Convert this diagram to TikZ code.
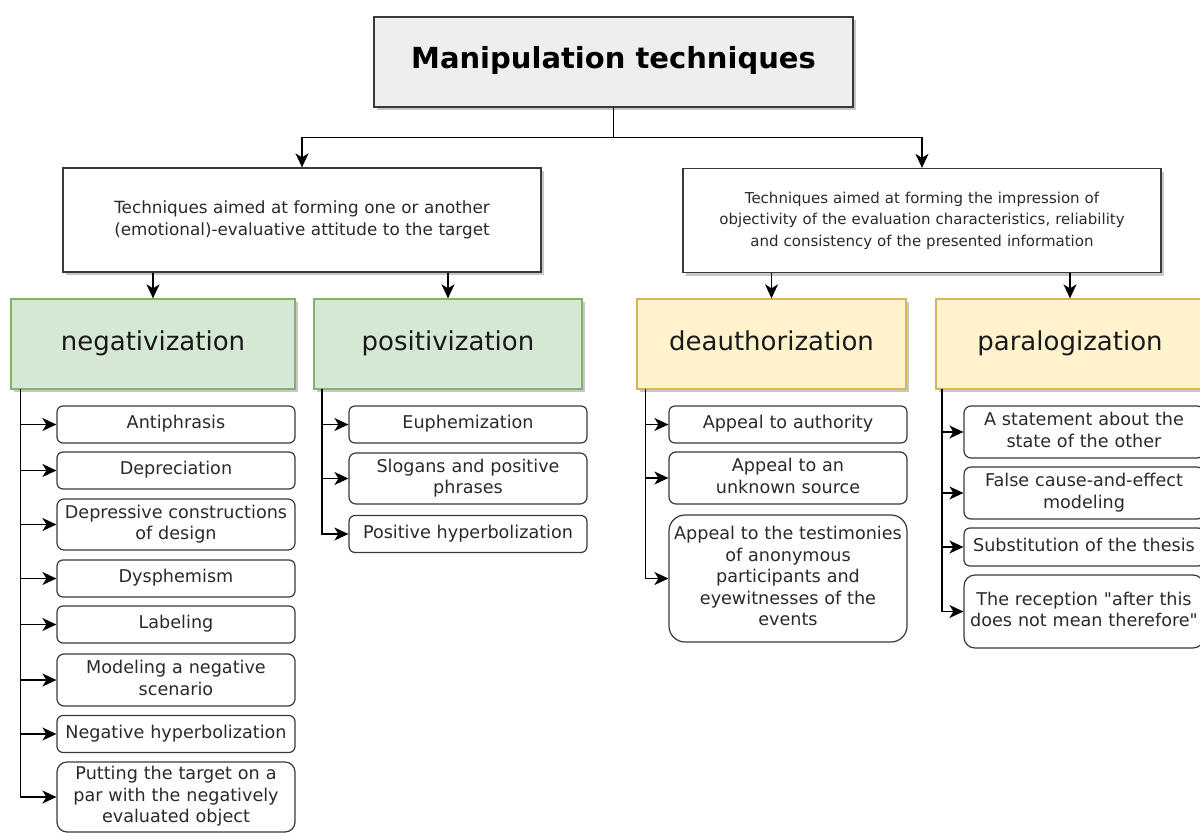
\documentclass[tikz,border=0pt]{standalone}
\usepackage{fontspec}
\setmainfont{DejaVu Sans}[Ligatures=TeXOff]
\usetikzlibrary{arrows.meta,shadows,calc}
\definecolor{topfill}{HTML}{EEEEEE}
\definecolor{topline}{HTML}{36393D}
\definecolor{greenfill}{HTML}{D5E8D4}
\definecolor{greenline}{HTML}{82B366}
\definecolor{yelfill}{HTML}{FFF2CC}
\definecolor{yelline}{HTML}{D6B656}
\definecolor{txt}{HTML}{2A2A2A}
\begin{document}
\begin{tikzpicture}[x=1pt,y=-1pt,
  conn/.style={line width=1.5pt, draw=black},
  arr/.style={conn,-{Stealth[length=14pt,width=13pt,inset=4pt]}},
  boxshadow/.style={drop shadow={shadow xshift=3pt,shadow yshift=-3pt,opacity=0.22,fill=black}},
  st/.style={execute at begin node=\strut, execute at end node=\strut},
  topbox/.style={draw=topline, fill=topfill, line width=1.3pt, boxshadow, inner sep=0pt, st,
    minimum width=479pt, minimum height=90pt, font=\fontsize{29}{34}\selectfont\bfseries},
  midbox/.style={draw=topline, fill=white, line width=1.3pt, boxshadow, inner sep=0pt, st,
    text width=478pt, align=center, minimum height=104pt, text=txt},
  hdr/.style={line width=1.3pt, boxshadow, inner sep=0pt, minimum height=90pt, st,
    font=\fontsize{26}{30}\selectfont, text=black!90},
  ghdr/.style={hdr, draw=greenline, fill=greenfill},
  yhdr/.style={hdr, draw=yelline, fill=yelfill},
  leaf/.style={draw=topline, fill=white, line width=1.2pt, inner sep=0pt, st,
    text width=238pt, align=center, text=txt, rounded corners=6pt,
    font=\fontsize{17.6}{21.5}\selectfont}
]
\clip (0,0) rectangle (1200,833);

% top
\node[topbox] (top) at (613.5,62) {Manipulation techniques};

% middle
\node[midbox, font=\fontsize{16.8}{21.7}\selectfont] (midL) at (302,220)
  {Techniques aimed at forming one or another\\(emotional)-evaluative attitude to the target};
\node[midbox, font=\fontsize{15}{21.5}\selectfont] (midR) at (922,220.5)
  {Techniques aimed at forming the impression of\\objectivity of the evaluation characteristics, reliability\\and consistency of the presented information};

% headers
\node[ghdr, minimum width=284pt] (neg) at (153,344) {negativization};
\node[ghdr, minimum width=268pt] (pos) at (448,344) {positivization};
\node[yhdr, minimum width=269pt] (dea) at (771.5,344) {deauthorization};
\node[yhdr, minimum width=268pt] (par) at (1070,344) {paralogization};

% negativization leaves
\node[leaf, minimum height=37pt] (a1) at (176,424.5) {Antiphrasis};
\node[leaf, minimum height=37pt] (a2) at (176,470.5) {Depreciation};
\node[leaf, minimum height=51pt, rounded corners=7pt] (a3) at (176,524.5) {Depressive constructions\\of design};
\node[leaf, minimum height=37pt] (a4) at (176,578.5) {Dysphemism};
\node[leaf, minimum height=37pt] (a5) at (176,624.5) {Labeling};
\node[leaf, minimum height=52pt, rounded corners=7pt] (a6) at (176,680) {Modeling a negative\\scenario};
\node[leaf, minimum height=37pt] (a7) at (176,734) {Negative hyperbolization};
\node[leaf, minimum height=70pt, rounded corners=10pt] (a8) at (176,797) {Putting the target on a\\par with the negatively\\evaluated object};

% positivization leaves
\node[leaf, minimum height=37pt] (b1) at (468,424.5) {Euphemization};
\node[leaf, minimum height=51pt, rounded corners=7pt] (b2) at (468,478.5) {Slogans and positive\\phrases};
\node[leaf, minimum height=37pt] (b3) at (468,534) {Positive hyperbolization};

% deauthorization leaves
\node[leaf, minimum height=37pt] (c1) at (788,424.5) {Appeal to authority};
\node[leaf, minimum height=52pt, rounded corners=7pt] (c2) at (788,478) {Appeal to an\\unknown source};
\node[leaf, minimum height=127pt, rounded corners=16pt] (c3) at (788,578.5) {Appeal to the testimonies\\of anonymous\\participants and\\eyewitnesses of the\\events};

% paralogization leaves
\node[leaf, text width=240pt, minimum height=52pt, rounded corners=7pt] (d1) at (1084,432) {A statement about the\\state of the other};
\node[leaf, text width=240pt, minimum height=52pt, rounded corners=7pt] (d2) at (1084,493) {False cause-and-effect\\modeling};
\node[leaf, text width=240pt, minimum height=38pt] (d3) at (1084,547) {Substitution of the thesis};
\node[leaf, text width=240pt, minimum height=73pt, rounded corners=11pt] (d4) at (1084,611.5) {The reception "after this\\does not mean therefore"};

% connectors top -> middle
\draw[arr] (top.south) -- ++(0,30) -| (midL.north);
\draw[arr] (top.south) -- ++(0,30) -| (midR.north);

% middle -> headers
\draw[arr] (neg.north |- midL.south) -- (neg.north);
\draw[arr] (pos.north |- midL.south) -- (pos.north);
\draw[arr] (dea.north |- midR.south) -- (dea.north);
\draw[arr] (par.north |- midR.south) -- (par.north);

% headers -> leaves
\coordinate (nb) at (20.5,389);
\coordinate (pb) at (322,389);
\coordinate (db) at (645.5,389);
\coordinate (qb) at (942,389);
\foreach \c in {a1,a2,a3,a4,a5,a6,a7,a8}{\draw[arr] (nb) |- (\c.west);}
\foreach \c in {b1,b2,b3}{\draw[arr] (pb) |- (\c.west);}
\foreach \c in {c1,c2,c3}{\draw[arr] (db) |- (\c.west);}
\foreach \c in {d1,d2,d3,d4}{\draw[arr] (qb) |- (\c.west);}
\end{tikzpicture}
\end{document}
